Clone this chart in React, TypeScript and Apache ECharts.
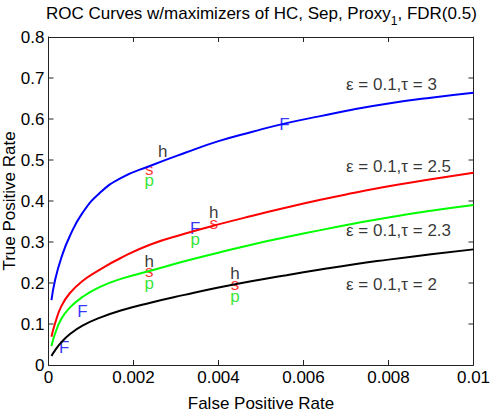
import React, { useEffect, useRef } from "react";
import * as echarts from "echarts";

const fpr = [0.00007, 0.00015, 0.0003, 0.0005, 0.0008, 0.0012, 0.0017, 0.0024, 0.0032, 0.004, 0.0048, 0.0056, 0.0064, 0.0072, 0.008, 0.009, 0.01];
const tprTau3 = [0.158, 0.205, 0.261, 0.314, 0.371, 0.419, 0.456, 0.486, 0.517, 0.546, 0.569, 0.59, 0.607, 0.624, 0.638, 0.652, 0.664];
const tprTau25 = [0.069, 0.1, 0.143, 0.175, 0.205, 0.232, 0.261, 0.294, 0.32, 0.343, 0.364, 0.384, 0.403, 0.42, 0.436, 0.453, 0.469];
const tprTau23 = [0.046, 0.075, 0.112, 0.14, 0.166, 0.19, 0.21, 0.23, 0.253, 0.274, 0.294, 0.312, 0.329, 0.345, 0.36, 0.376, 0.39];
const tprTau2 = [0.022, 0.035, 0.055, 0.075, 0.096, 0.115, 0.133, 0.152, 0.171, 0.189, 0.205, 0.219, 0.233, 0.246, 0.257, 0.27, 0.282];

// maximizer markers [fpr, tpr]
const hcMax = [[0.00269, 0.521], [0.00389, 0.372], [0.00237, 0.252], [0.00439, 0.224]];
const sepMax = [[0.00237, 0.478], [0.00389, 0.345], [0.00237, 0.228], [0.00439, 0.197]];
const proxyMax = [[0.00237, 0.451], [0.00345, 0.305], [0.00237, 0.199], [0.00439, 0.168]];
const fdrMax = [[0.00555, 0.587], [0.00345, 0.332], [0.0008, 0.13], [0.00037, 0.043]];

const curveLabels = ["ε = 0.1,τ = 3", "ε = 0.1,τ = 2.5", "ε = 0.1,τ = 2.3", "ε = 0.1,τ = 2"];
const curveLabelPos = [[0.007, 0.685], [0.007, 0.485], [0.007, 0.327], [0.007, 0.197]];

const xTicks = { min: 0, max: 0.01, interval: 0.002 };
const yTicks = { min: 0, max: 0.8, interval: 0.1 };
const xTickVals = [0.002, 0.004, 0.006, 0.008];
const yTickVals = [0.1, 0.2, 0.3, 0.4, 0.5, 0.6, 0.7];

const FONT = "'Liberation Sans', Arial, Helvetica, sans-serif";

export default function App() {
  const ref = useRef<HTMLDivElement>(null);
  useEffect(() => {
    if (!ref.current) return;
    const chart = echarts.init(ref.current, null, { renderer: "svg" });
    const axisLine = () => ({ show: true, onZero: false, lineStyle: { color: "#222", width: 1 } });
    const TL = 5;
    const line = (vals: number[], color: string) => ({
      type: "line",
      data: fpr.map((x, i) => [x, vals[i]]),
      showSymbol: false,
      symbol: "none",
      smooth: 0.5,
      lineStyle: { color, width: 2 },
      silent: true,
    });
    const letters = (pts: number[][], ch: string, color: string) => ({
      type: "scatter",
      data: pts,
      symbolSize: 1,
      itemStyle: { color: "transparent" },
      silent: true,
      label: {
        show: true,
        position: "inside",
        formatter: ch,
        color,
        fontSize: 17,
        fontFamily: FONT,
        align: "center",
        verticalAlign: "middle",
      },
    });
    chart.setOption({
      animation: false,
      backgroundColor: "#fff",
      title: {
        left: 46,
        top: 5,
        padding: 0,
        text: "{a|ROC Curves w/maximizers of HC, Sep, Proxy}{s|1}{a|, FDR(0.5)}",
        textStyle: {
          fontWeight: "normal",
          rich: {
            a: { fontSize: 17, fontWeight: "normal", fontFamily: FONT, color: "#000", lineHeight: 20, verticalAlign: "top" },
            s: { fontSize: 12, fontWeight: "normal", fontFamily: FONT, color: "#000", lineHeight: 12, padding: [10, 0, 0, 0], verticalAlign: "top" },
          },
        },
      },
      grid: { left: 48.5, right: 18.5, top: 37, bottom: 49, outerBoundsMode: "none", containLabel: false },
      xAxis: [
        {
          type: "value",
          position: "bottom",
          ...xTicks,
          name: "False Positive Rate",
          nameLocation: "middle",
          nameGap: 30,
          nameMoveOverlap: false,
          nameTextStyle: { fontSize: 17, fontFamily: FONT, color: "#000" },
          axisLine: axisLine(),
          axisTick: { show: false },
          splitLine: { show: false },
          axisLabel: { fontSize: 17, fontFamily: FONT, color: "#000", margin: 4 },
        },
        {
          type: "value",
          position: "top",
          ...xTicks,
          axisLine: axisLine(),
          axisTick: { show: false },
          splitLine: { show: false },
          axisLabel: { show: false },
        },
      ],
      yAxis: [
        {
          type: "value",
          position: "left",
          ...yTicks,
          name: "True Positive Rate",
          nameLocation: "middle",
          nameGap: 31,
          nameMoveOverlap: false,
          nameTextStyle: { fontSize: 17, fontFamily: FONT, color: "#000" },
          axisLine: axisLine(),
          axisTick: { show: false },
          splitLine: { show: false },
          axisLabel: { fontSize: 17, fontFamily: FONT, color: "#000", margin: 4 },
        },
        {
          type: "value",
          position: "right",
          ...yTicks,
          axisLine: axisLine(),
          axisTick: { show: false },
          splitLine: { show: false },
          axisLabel: { show: false },
        },
      ],
      series: [
        line(tprTau3, "#0000ff"),
        line(tprTau25, "#ff0000"),
        line(tprTau23, "#00ff00"),
        line(tprTau2, "#000000"),
        letters(hcMax, "h", "#000000"),
        letters(sepMax, "s", "#ff0000"),
        letters(proxyMax, "p", "#00dd00"),
        letters(fdrMax, "F", "#0000ff"),
        {
          type: "scatter",
          data: curveLabelPos.map((p, i) => ({ value: p, name: curveLabels[i] })),
          symbolSize: 1,
          itemStyle: { color: "transparent" },
          silent: true,
          label: {
            show: true,
            position: "inside",
            formatter: (p: any) => p.name,
            color: "#000",
            fontSize: 17,
            fontFamily: FONT,
            align: "left",
            verticalAlign: "middle",
          },
        },
      ],
    });

    // inward tick marks on all four sides, placed through the chart's own scales
    const finder = { xAxisIndex: 0, yAxisIndex: 0 };
    const tickStyle = { stroke: "#222", lineWidth: 1 };
    const graphics: any[] = [];
    xTickVals.forEach((v) => {
      const b = chart.convertToPixel(finder as any, [v, yTicks.min]) as number[];
      const t = chart.convertToPixel(finder as any, [v, yTicks.max]) as number[];
      if (!b || !t) return;
      graphics.push({ type: "line", silent: true, z: 100, shape: { x1: b[0], y1: b[1], x2: b[0], y2: b[1] - TL }, style: tickStyle });
      graphics.push({ type: "line", silent: true, z: 100, shape: { x1: t[0], y1: t[1], x2: t[0], y2: t[1] + TL }, style: tickStyle });
    });
    yTickVals.forEach((v) => {
      const l = chart.convertToPixel(finder as any, [xTicks.min, v]) as number[];
      const r = chart.convertToPixel(finder as any, [xTicks.max, v]) as number[];
      if (!l || !r) return;
      graphics.push({ type: "line", silent: true, z: 100, shape: { x1: l[0], y1: l[1], x2: l[0] + TL, y2: l[1] }, style: tickStyle });
      graphics.push({ type: "line", silent: true, z: 100, shape: { x1: r[0], y1: r[1], x2: r[0] - TL, y2: r[1] }, style: tickStyle });
    });
    chart.setOption({ graphic: graphics });

    return () => chart.dispose();
  }, []);
  return <div ref={ref} style={{ position: "fixed", left: 0, top: 0, width: 492, height: 414 }} />;
}
